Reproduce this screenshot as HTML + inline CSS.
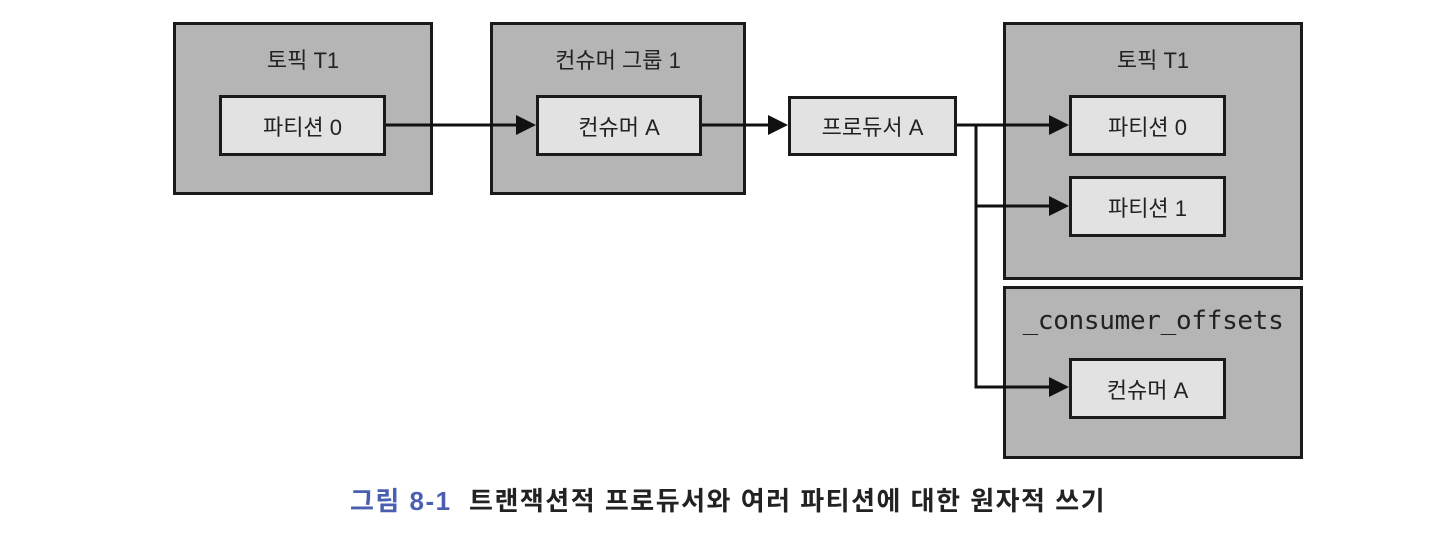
<!DOCTYPE html>
<html><head><meta charset="utf-8"><style>
body{margin:0;width:1456px;height:536px;background:#fff;position:relative;overflow:hidden;font-family:"Liberation Sans","Noto Sans CJK KR",sans-serif}
.o{position:absolute;background:#b5b5b5;border:3px solid #1a1a1a;box-sizing:border-box}
.i{position:absolute;background:#e2e2e2;border:3px solid #1a1a1a;box-sizing:border-box;display:flex;align-items:center;justify-content:center;font-size:22px;color:#222}
.t{position:absolute;font-size:22px;color:#222;text-align:center}
</style></head><body>
<div class="o" style="left:173px;top:22px;width:260px;height:173px"></div>
<div class="t" style="left:173px;top:43px;width:260px">토픽 T1</div>
<div class="i" style="left:219px;top:95px;width:167px;height:61px">파티션 0</div>

<div class="o" style="left:490px;top:22px;width:256px;height:173px"></div>
<div class="t" style="left:490px;top:43px;width:256px">컨슈머 그룹 1</div>
<div class="i" style="left:536px;top:95px;width:166px;height:61px">컨슈머 A</div>

<div class="i" style="left:788px;top:96px;width:169px;height:60px">프로듀서 A</div>

<div class="o" style="left:1003px;top:22px;width:300px;height:258px"></div>
<div class="t" style="left:1003px;top:43px;width:300px">토픽 T1</div>
<div class="i" style="left:1069px;top:95px;width:157px;height:61px">파티션 0</div>
<div class="i" style="left:1069px;top:176px;width:157px;height:61px">파티션 1</div>

<div class="o" style="left:1003px;top:286px;width:300px;height:173px"></div>
<div class="t" style="left:1003px;top:306px;width:300px;font-family:'DejaVu Sans Mono','Liberation Mono',monospace;font-size:26px;letter-spacing:-0.3px">_consumer_offsets</div>
<div class="i" style="left:1069px;top:358px;width:157px;height:61px">컨슈머 A</div>

<svg width="1456" height="536" style="position:absolute;left:0;top:0">
<g stroke="#111" stroke-width="3" fill="none">
<line x1="386" y1="125" x2="518" y2="125"/>
<line x1="702" y1="125" x2="770" y2="125"/>
<line x1="957" y1="125" x2="1050" y2="125"/>
<polyline points="976,125 976,387 1050,387"/>
<line x1="976" y1="206" x2="1050" y2="206"/>
</g>
<g fill="#111">
<polygon points="516,115 536,125 516,135"/>
<polygon points="768,115 788,125 768,135"/>
<polygon points="1049,115 1069,125 1049,135"/>
<polygon points="1049,196 1069,206 1049,216"/>
<polygon points="1049,377 1069,387 1049,397"/>
</g>
</svg>
<div style="position:absolute;left:0;width:1456px;top:481px;text-align:center;font-size:26px;letter-spacing:1.5px;font-weight:bold;color:#222"><span style="color:#4a5fb0">그림 8-1</span>&nbsp; 트랜잭션적 프로듀서와 여러 파티션에 대한 원자적 쓰기</div>
</body></html>
